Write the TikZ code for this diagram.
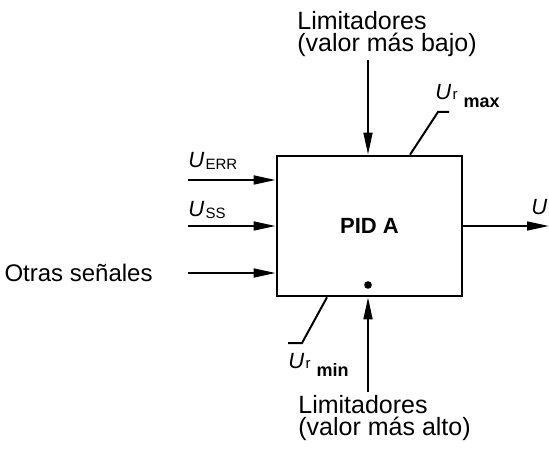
\documentclass[tikz,border=0pt]{standalone}
\usepackage{fontspec}
\setmainfont{Liberation Sans}
\usetikzlibrary{arrows.meta}

\newcommand{\Usym}[1]{\textit{U}\kern0.6pt{\fontsize{7.5}{7.5}\selectfont\raisebox{-0.8pt}{#1}}}

\begin{document}
\begin{tikzpicture}[x=0.5pt, y=-0.5pt,
  sig/.style={line width=1.1pt, -{Triangle[length=11pt,width=4.4pt]}},
  lead/.style={line width=1pt},
  lbl/.style={font=\fontsize{11}{11}\selectfont, inner sep=0pt},
  txt/.style={font=\fontsize{12.5}{11}\selectfont, inner sep=0pt, align=left}]
\useasboundingbox (0,0) rectangle (549,453);

% controller block
\node[draw, line width=1.3pt, minimum width=92.5pt, minimum height=70pt,
      font=\bfseries\fontsize{11}{11}\selectfont] (pid) at (369.5,226) {PID A};
\fill (368,285) circle (1.9pt);

% inputs on the left
\coordinate (err) at (188,180);
\coordinate (ss) at (188,226);
\coordinate (otr) at (188,273);
\draw[sig] (err) -- (err -| pid.west);
\draw[sig] (ss) -- (ss -| pid.west);
\draw[sig] (otr) -- (otr -| pid.west);
\node[lbl, anchor=base west] (uerr) at (188,168) {\Usym{ERR}};
\node[lbl, anchor=base west] (uss) at (188,217) {\Usym{SS}};
\node[txt, anchor=east, font=\fontsize{12}{12}\selectfont] (otras) at (153,273) {Otras señales};

% limiters from above and below
\node[txt, anchor=north west] (limsup) at (297,11) {Limitadores\\(valor más bajo)};
\coordinate (topin) at (368,60);
\draw[sig] (topin) -- (topin |- pid.north);
\node[txt, anchor=north west] (liminf) at (298,395) {Limitadores\\(valor más alto)};
\coordinate (botin) at (368,392);
\draw[sig] (botin) -- (botin |- pid.south);

% output
\coordinate (outp) at (549,226);
\draw[sig] (pid.east) -- (outp);
\node[lbl, anchor=base west] (ur) at (531,215) {\Usym{r}};

% limit values
\coordinate (maxkink) at (438,112);
\draw[lead] ([xshift=20.25pt]pid.north) -- (maxkink) -- ++(11,0);
\node[lbl, anchor=base west] (urmax) at (435,100)
  {\textit{U}\kern0.6pt{\fontsize{7.5}{7.5}\selectfont r}\kern3pt\raisebox{-4pt}{\fontsize{9}{9}\selectfont\bfseries max}};
\coordinate (minkink) at (302,343);
\draw[lead] ([xshift=-21.25pt]pid.south) -- (minkink) -- ++(-14,0);
\node[lbl, anchor=base west] (urmin) at (288,368)
  {\textit{U}\kern0.6pt{\fontsize{7.5}{7.5}\selectfont r}\kern3pt\raisebox{-4pt}{\fontsize{9}{9}\selectfont\bfseries min}};
\end{tikzpicture}
\end{document}
